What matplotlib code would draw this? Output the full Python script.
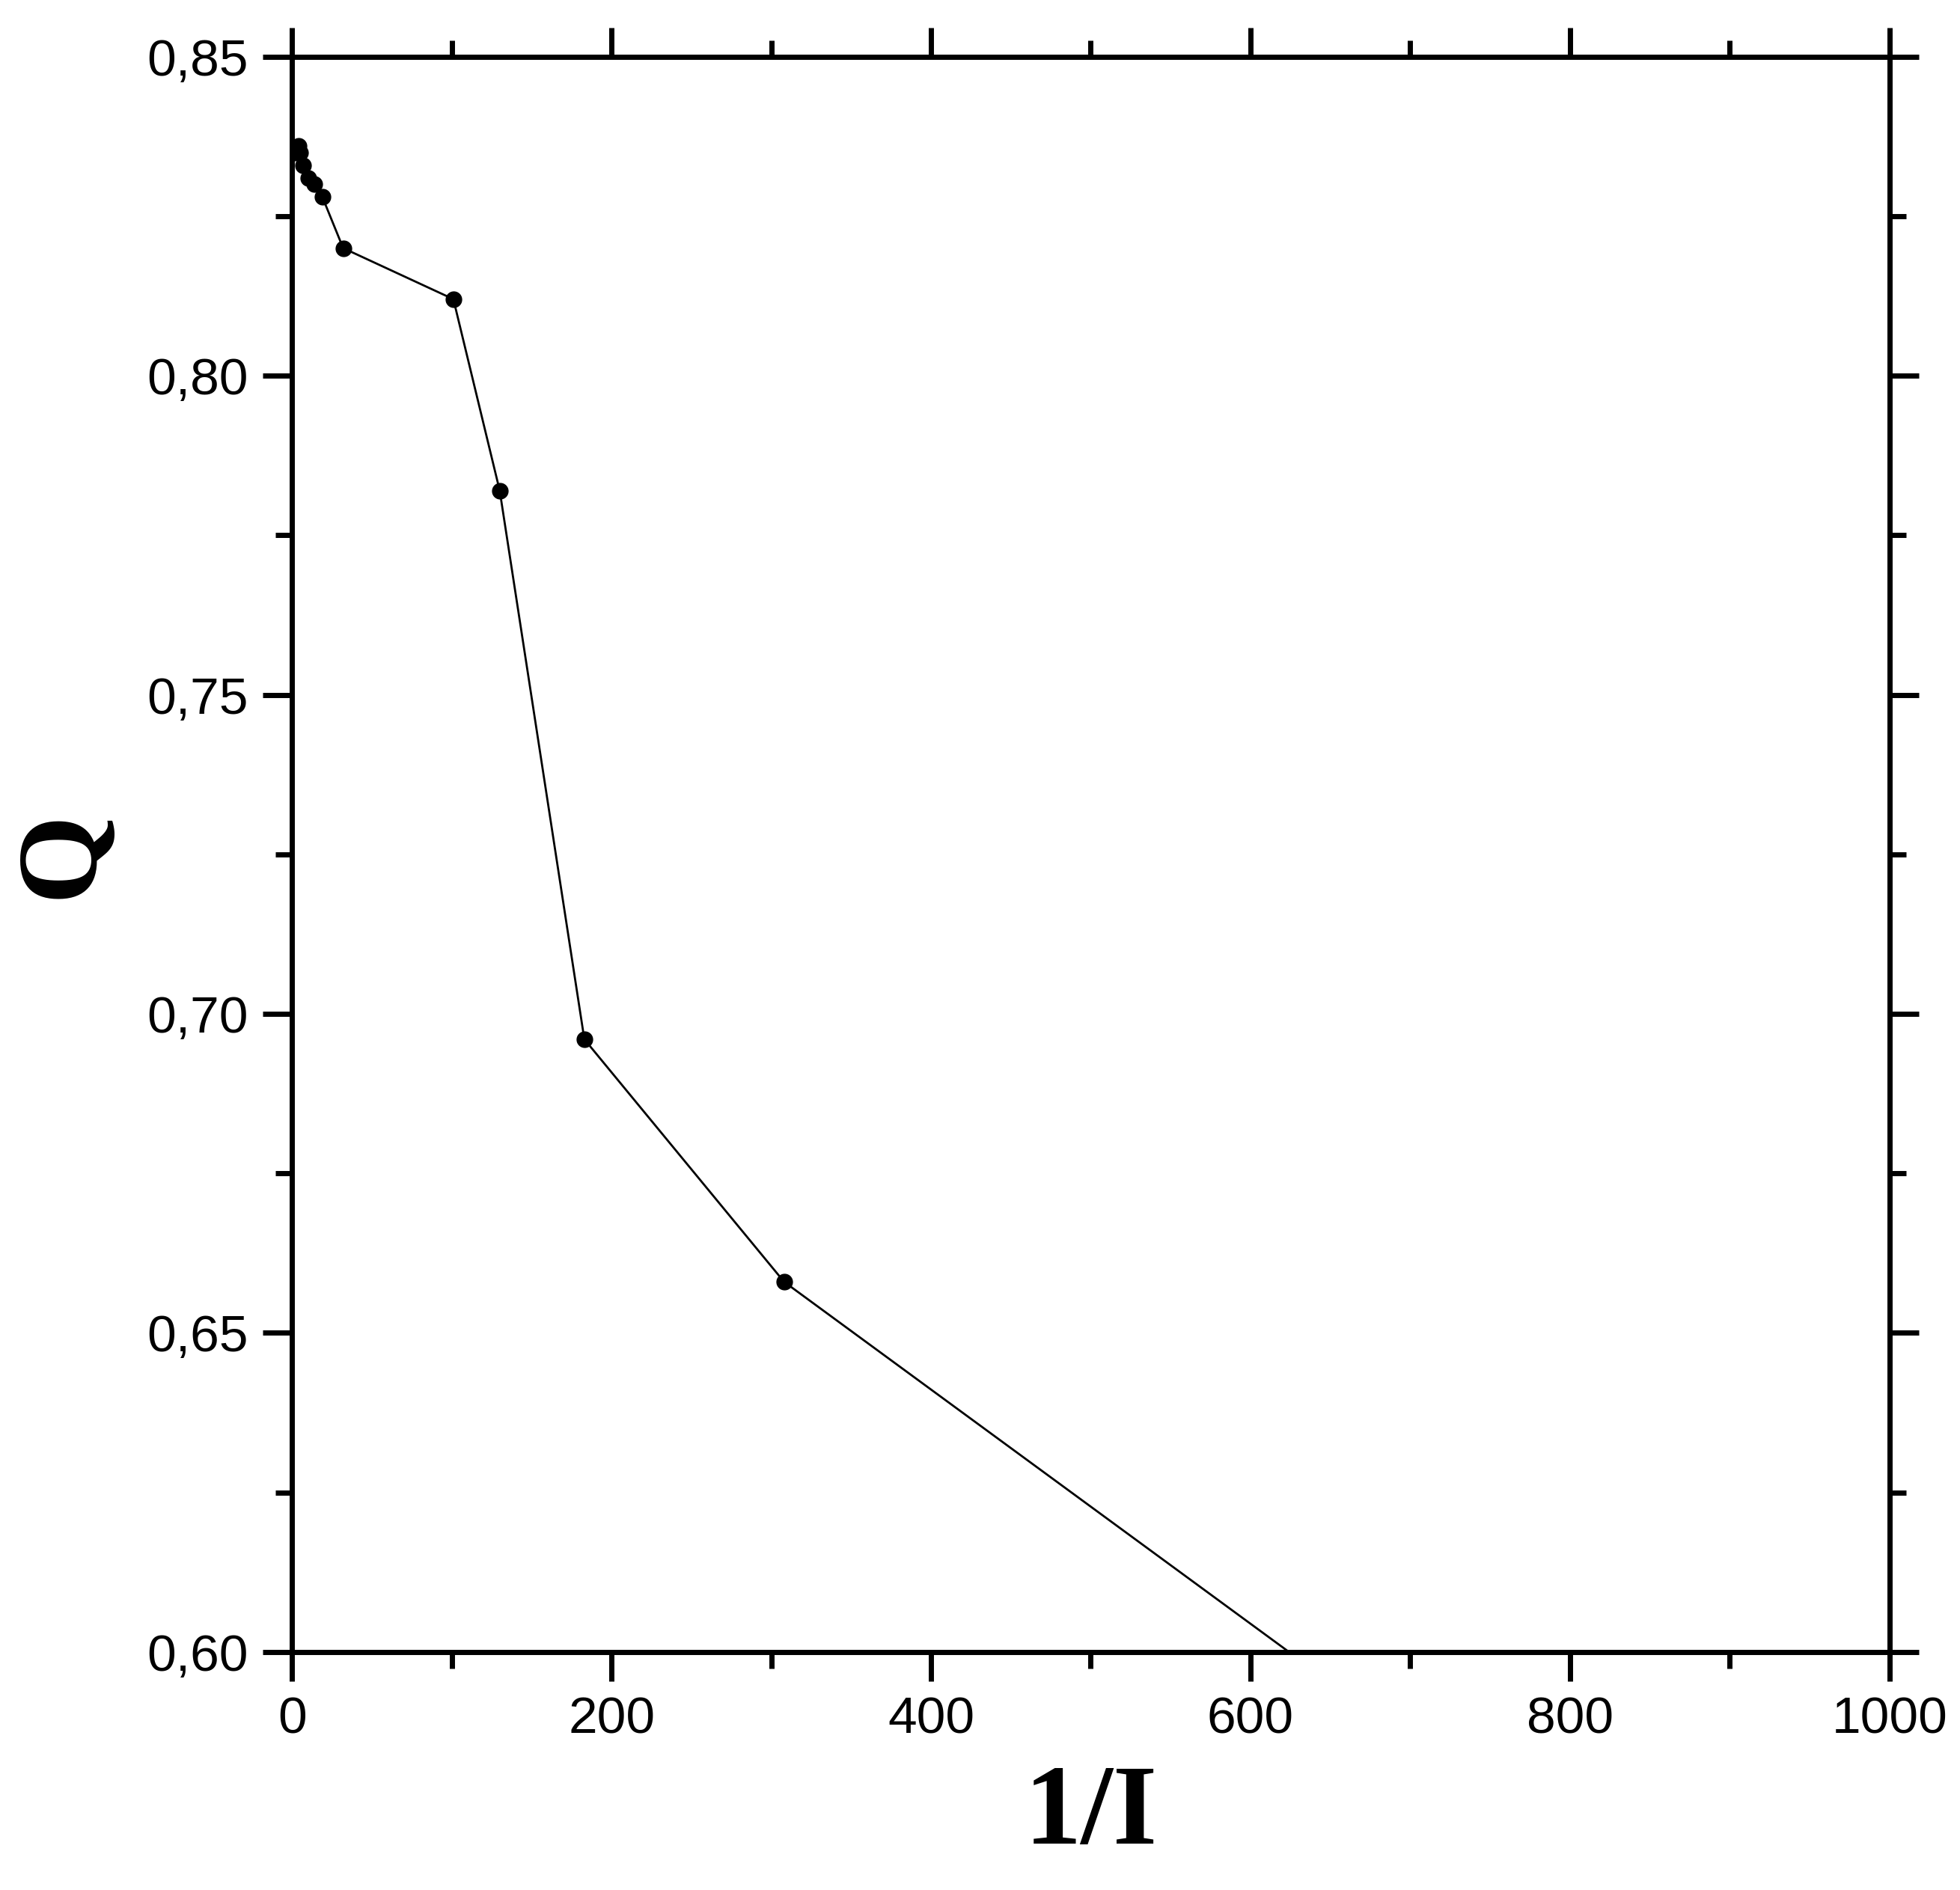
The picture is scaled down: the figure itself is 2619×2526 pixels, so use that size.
import matplotlib.pyplot as plt
from matplotlib.ticker import MultipleLocator, FuncFormatter

# data
inv_i = [2, 4, 5, 7, 10, 14, 19, 32, 101, 130, 183, 308, 1000]
q = [0.835, 0.836, 0.835, 0.833, 0.831, 0.830, 0.828, 0.820, 0.812, 0.782, 0.696, 0.658, 0.531]

plt.rcParams['font.family'] = ['Liberation Sans', 'DejaVu Sans']

fig = plt.figure(figsize=(26.19, 25.26), dpi=100)
ax = fig.add_axes([0.149, 0.126, 0.815, 0.844])

ax.plot(inv_i, q, color='black', linewidth=2, marker='o', markersize=15, zorder=3)

ax.set_xlim(0, 1000)
ax.set_ylim(0.60, 0.85)
ax.xaxis.set_major_locator(MultipleLocator(200))
ax.xaxis.set_minor_locator(MultipleLocator(100))
ax.yaxis.set_major_locator(MultipleLocator(0.05))
ax.yaxis.set_minor_locator(MultipleLocator(0.025))
ax.yaxis.set_major_formatter(FuncFormatter(lambda v, p: f"{v:.2f}".replace('.', ',')))

for side in ax.spines.values():
    side.set_linewidth(5)
ax.tick_params(which='both', direction='out', top=True, right=True, width=5)
ax.tick_params(which='major', length=28, labelsize=50, pad=14)
ax.tick_params(which='minor', length=16)
# ticks on top/right go both ways in the reference
ax.tick_params(which='both', axis='x', top=True)

ax.set_xlabel('1/I', fontsize=110, fontweight='bold', family='Liberation Serif', labelpad=20)
ax.set_ylabel('Q', fontsize=110, fontweight='bold', family='Liberation Serif', labelpad=30)

fig.savefig('out.png', dpi=100)
